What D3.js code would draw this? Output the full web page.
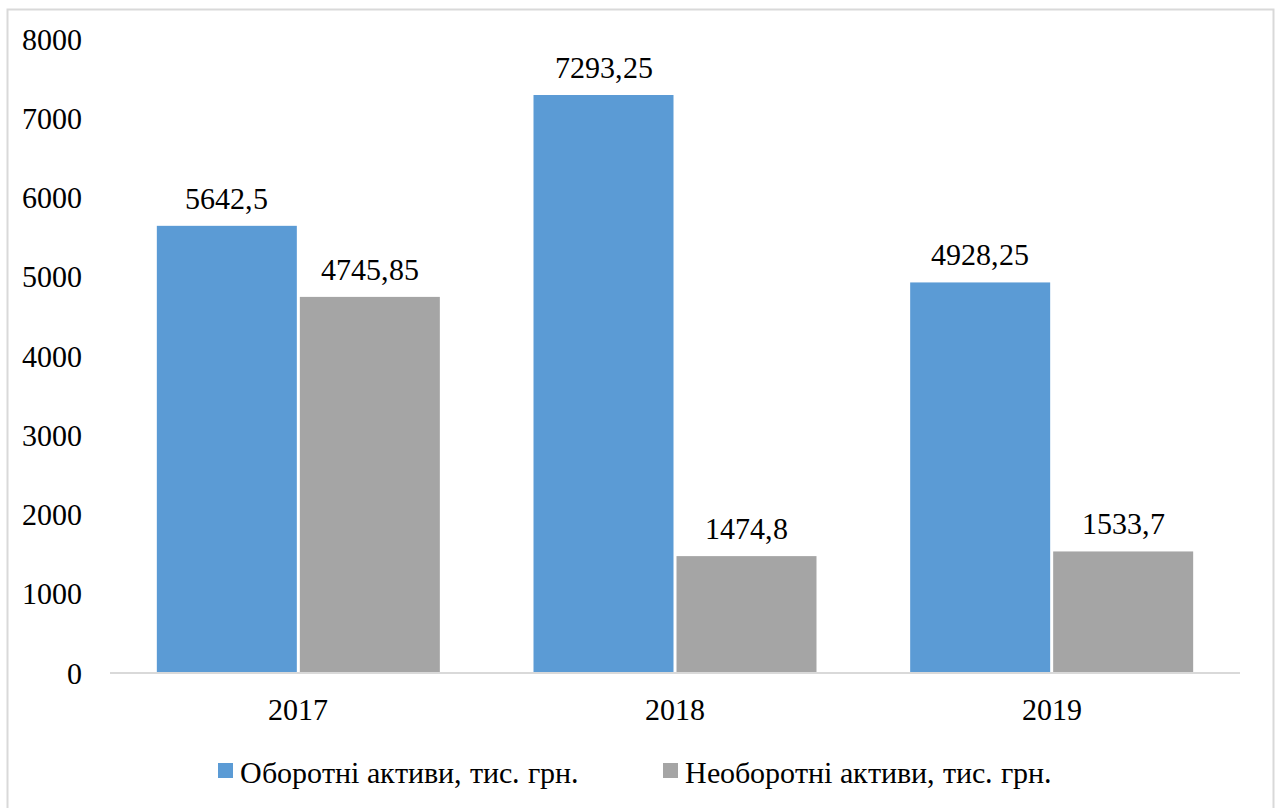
<!DOCTYPE html>
<html>
<head>
<meta charset="utf-8">
<script src="https://cdn.jsdelivr.net/npm/d3@7"></script>
<style>
  @font-face {
    font-family: "ChartSerif";
    src: local("Liberation Serif"), local("LiberationSerif"), local("LiberationSerif-Regular"), local("Times New Roman"), local("Tinos");
  }
  body { margin: 0; }
  text { font-family: "ChartSerif", "Liberation Serif", "Times New Roman", Tinos, serif; }
</style>
</head>
<body>
<svg id="chart" width="1276" height="808"></svg>
<script>
// Years on the category axis
const years = ["2017", "2018", "2019"];
// Series values, thousand UAH
const currentAssets = [5642.5, 7293.25, 4928.25];
const nonCurrentAssets = [4745.85, 1474.8, 1533.7];
// Value labels as printed on the bars
const currentLabels = ["5642,5", "7293,25", "4928,25"];
const nonCurrentLabels = ["4745,85", "1474,8", "1533,7"];
// Series names for the legend
const seriesNames = ["Оборотні активи, тис. грн.", "Необоротні активи, тис. грн."];
const yTicks = [0, 1000, 2000, 3000, 4000, 5000, 6000, 7000, 8000];

const colors = ["#5b9bd5", "#a5a5a5"];
const svg = d3.select("#chart");
const FAMILY = '"ChartSerif", "Liberation Serif", "Times New Roman", Tinos, serif';

// shared text styling
function serif(sel) {
  return sel.attr("font-family", FAMILY).style("font-family", FAMILY)
    .attr("font-size", 30).attr("fill", "#000");
}

// outer frame
svg.append("rect")
  .attr("x", 7.5).attr("y", 9.5)
  .attr("width", 1266).attr("height", 810)
  .attr("fill", "none").attr("stroke", "#d9d9d9").attr("stroke-width", 2);

const plot = { left: 110, right: 1240, top: 39, bottom: 673 };

const x = d3.scaleBand().domain(years).range([plot.left, plot.right]);
const y = d3.scaleLinear().domain([0, 8000]).range([plot.bottom, plot.top]);

const barW = 140;
const series = [
  { values: currentAssets, labels: currentLabels, color: colors[0], offset: -barW - 1.5 },
  { values: nonCurrentAssets, labels: nonCurrentLabels, color: colors[1], offset: 1.5 }
];

// y-axis labels
const yg = svg.append("g");
serif(yg.selectAll("text").data(yTicks).join("text")
  .attr("x", 82).attr("y", d => y(d)).attr("dy", "0.35em")
  .attr("text-anchor", "end")
  .text(d => d3.format("d")(d)));

// bars and value labels
series.forEach(s => {
  svg.append("g").selectAll("rect")
    .data(years)
    .join("rect")
    .attr("x", d => x(d) + x.bandwidth() / 2 + s.offset)
    .attr("y", (d, i) => y(s.values[i]))
    .attr("width", barW)
    .attr("height", (d, i) => y(0) - y(s.values[i]))
    .attr("fill", s.color);

  serif(svg.append("g").selectAll("text")
    .data(years)
    .join("text")
    .attr("x", d => x(d) + x.bandwidth() / 2 + s.offset + barW / 2)
    .attr("y", (d, i) => y(s.values[i]) - 17)
    .attr("text-anchor", "middle")
    .text((d, i) => s.labels[i]));
});

// category axis line and labels
svg.append("line")
  .attr("x1", x.range()[0]).attr("x2", x.range()[1])
  .attr("y1", y(0)).attr("y2", y(0))
  .attr("stroke", "#d9d9d9").attr("stroke-width", 2);
serif(svg.append("g").selectAll("text").data(years).join("text")
  .attr("x", d => x(d) + x.bandwidth() / 2)
  .attr("y", y(0) + 36)
  .attr("dy", "0.35em")
  .attr("text-anchor", "middle")
  .text(d => d));

// legend
const legendItems = [
  { name: seriesNames[0], color: colors[0], x: 218 },
  { name: seriesNames[1], color: colors[1], x: 663 }
];
const lg = svg.append("g");
legendItems.forEach(it => {
  lg.append("rect").attr("x", it.x).attr("y", 763).attr("width", 15).attr("height", 15).attr("fill", it.color);
  serif(lg.append("text").attr("x", it.x + 22).attr("y", 772).attr("dy", "0.35em").text(it.name));
});
</script>
</body>
</html>
